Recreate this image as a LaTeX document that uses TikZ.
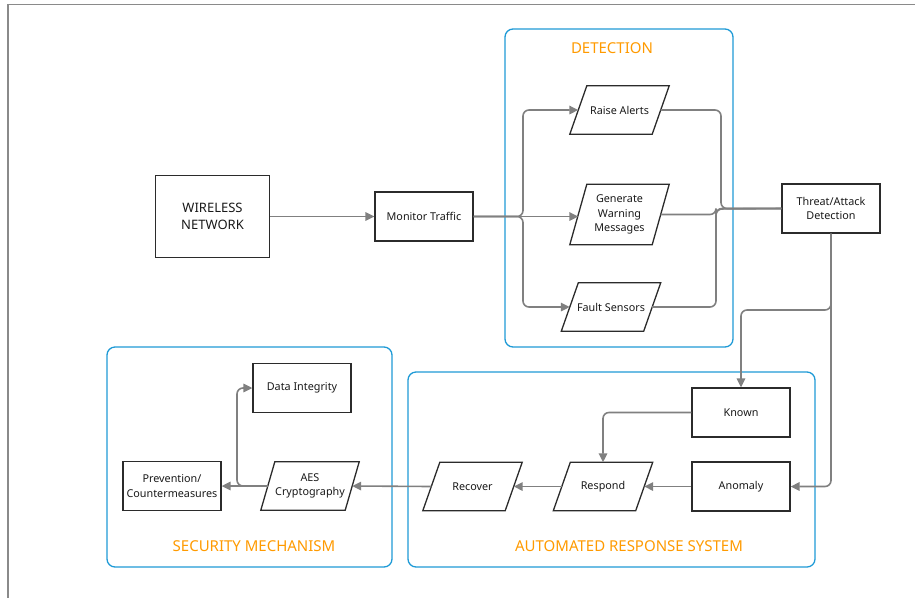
\documentclass[tikz,border=0pt]{standalone}
\usepackage{fontspec}
\setmainfont{Noto Sans}
\usetikzlibrary{arrows.meta}
\definecolor{edgec}{HTML}{808080}
\definecolor{grpc}{HTML}{1E9AD6}
\definecolor{ttlc}{HTML}{FF9A00}
\definecolor{brdc}{HTML}{2B2B2B}
\definecolor{framec}{HTML}{8A8A8A}
\newcommand\mypara[2]{\draw[brdc,line width=1.3pt] ([xshift=#2]#1.north west) -- ([xshift=#2]#1.north east) -- ([xshift=-#2]#1.south east) -- ([xshift=-#2]#1.south west) -- cycle;}
\begin{document}
\begin{tikzpicture}[x=1pt,y=-1pt,
  nodetext/.style={align=center,font=\fontsize{10.8}{14.5}\selectfont,text=black!90},
  box/.style={nodetext,draw=brdc,line width=1.3pt,minimum width=98pt,minimum height=49pt,inner sep=2pt},
  para/.style={nodetext,draw=none,minimum width=82pt,minimum height=48pt,inner sep=2pt},
  grp/.style={draw=grpc,line width=1.3pt,rounded corners=8pt},
  ttl/.style={text=ttlc,font=\fontsize{15}{17}\selectfont},
  conn/.style={draw=edgec,line width=1.6pt,rounded corners=6pt},
  arr/.style={conn,-{Triangle[length=9pt,width=8.5pt]}}
]
\useasboundingbox (0,0) rectangle (915,598);
\draw[framec,line width=1.5pt] (915,4.5) -- (8,4.5) -- (8,598);

% groups
\draw[grp] (505,29) rectangle (733,347);
\node[ttl] (tdet) at (612,48) {DETECTION};
\draw[grp] (107,347) rectangle (392,567);
\node[ttl] (tsec) at (254,546) {SECURITY MECHANISM};
\draw[grp] (408,372) rectangle (815,567);
\node[ttl] (tars) at (629,546) {AUTOMATED RESPONSE SYSTEM};

% nodes
\node[box,minimum width=114pt,minimum height=82pt,font=\fontsize{13}{17}\selectfont] (wn) at (212.5,216.5) {WIRELESS\\NETWORK};
\node[box] (mt) at (424,216.5) {Monitor Traffic};
\node[para] (ra) at (619.5,110) {Raise Alerts};
\mypara{ra}{8.5pt}
\node[para,minimum height=60pt] (gw) at (619.5,214.5) {Generate\\Warning\\Messages};
\mypara{gw}{8.5pt}
\node[para] (fs) at (611,307) {Fault Sensors};
\mypara{fs}{8.5pt}
\node[box] (td) at (831,208.5) {Threat/Attack\\Detection};
\node[box] (kn) at (741,412.5) {Known};
\node[box] (an) at (741,486.5) {Anomaly};
\node[para] (rs) at (603,486.5) {Respond};
\mypara{rs}{8.5pt}
\node[para] (rc) at (472.5,486.5) {Recover};
\mypara{rc}{8.5pt}
\node[para,minimum width=84pt] (aes) at (310,486) {AES\\Cryptography};
\mypara{aes}{7pt}
\node[box] (pc) at (172,486) {Prevention/\\Countermeasures};
\node[box] (di) at (302,388) {Data Integrity};

% connectors
\coordinate (sp) at (523,216.5);
\coordinate (mg) at (721,208.5);
\coordinate (br) at (237,486);
\draw[arr] (wn.east) -- (mt.west);
\draw[arr] (mt.east) -- (sp) |- (ra.west);
\draw[arr] (mt.east) -- (gw.west|-mt.east);
\draw[arr] (mt.east) -- (sp) |- (fs.west);
\draw[conn] (ra.east) -| (mg) -- (td.west);
\draw[conn] (gw.east) -- (716,214.5) |- (td.west);
\draw[conn] (fs.east) -| (716,209) -- (td.west);
\draw[arr] (td.south) |- (an.east);
\draw[arr] (td.south) -- (831,310) -| (kn.north);
\draw[arr] (an.west) -- (rs.east);
\draw[arr] (kn.west) -| (rs.north);
\draw[arr] (rs.west) -- (rc.east);
\draw[arr] (rc.west) -- (aes.east);
\draw[arr] (aes.west) -- (pc.east);
\draw[arr] (246,486) -- (br) |- (di.west);
\end{tikzpicture}
\end{document}
